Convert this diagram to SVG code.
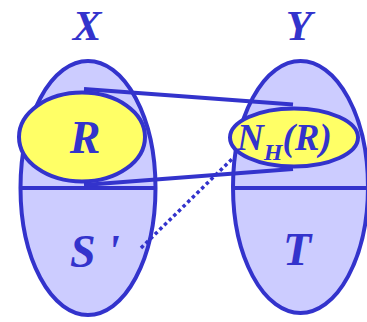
<svg xmlns="http://www.w3.org/2000/svg" width="367" height="322" viewBox="0 0 367 322">
<style>
.big{fill:#ccccff;stroke:#3333cc;stroke-width:4}
.yel{fill:#ffff66;stroke:#3333cc;stroke-width:4}
.ln{stroke:#3333cc;stroke-width:4;fill:none}
.dot{stroke:#3333cc;stroke-width:3.5;fill:none;stroke-dasharray:3.5 3}
text{font-family:"Liberation Serif","Times New Roman",serif;font-weight:bold;font-style:italic;fill:#3333cc}
</style>
<rect width="367" height="322" fill="#ffffff"/>
<g id="X">
<ellipse class="big" cx="88" cy="188" rx="67.5" ry="127"/>
<line class="ln" x1="20" y1="188" x2="156" y2="188"/>
<text x="87" y="40" font-size="43" text-anchor="middle">X</text>
</g>
<g id="Y">
<ellipse class="big" cx="300.5" cy="187" rx="67.5" ry="126"/>
<line class="ln" x1="233" y1="188" x2="367" y2="188"/>
<text x="299" y="40" font-size="43" text-anchor="middle">Y</text>
</g>
<g id="Sprime">
<text x="70" y="267" font-size="46">S '</text>
</g>
<g id="T">
<text x="297" y="265" font-size="46" text-anchor="middle">T</text>
</g>
<g id="connectors">
<line class="dot" x1="141" y1="248" x2="233" y2="158"/>
</g>
<g id="R">
<ellipse class="yel" cx="82" cy="137" rx="63" ry="44.5"/>
<text x="85" y="153" font-size="46" text-anchor="middle">R</text>
</g>
<g id="NHR">
<ellipse class="yel" cx="294" cy="137.5" rx="64" ry="29"/>
<text x="237" y="150" font-size="37">N<tspan font-size="24" dy="10">H</tspan><tspan dy="-10">(R)</tspan></text>
</g>
<g id="edges">
<polyline class="ln" points="84,89 293,104.5"/>
<polyline class="ln" points="84,185 293,169"/>
</g>
</svg>
